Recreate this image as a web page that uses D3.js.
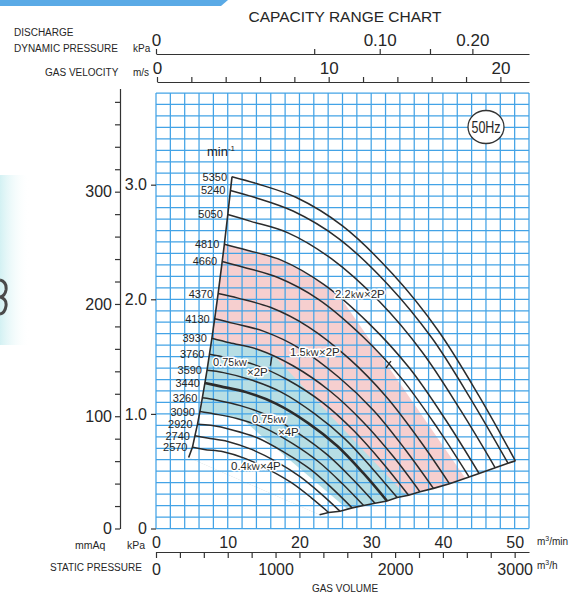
<!DOCTYPE html>
<html><head><meta charset="utf-8">
<script src="https://cdn.jsdelivr.net/npm/d3@7/dist/d3.min.js"></script>
<style>
body{margin:0;background:#fff}
svg text{font-family:"Liberation Sans",Arial,sans-serif;fill:#262626}
</style></head>
<body><svg id="c" width="577" height="603"></svg>
<script>
// ---------- data ----------
const rpmLabels = [5350,5240,5050,4810,4660,4370,4130,3930,3760,3590,3440,3260,3090,2920,2740,2570];
// gas volume (m3/min) of the points on each rpm curve
const curveQ = [
 [10.6,14.0,19.5,26.0,33.0,39.3,45.0,50.1],
 [10.38,13.71,19.10,25.47,32.32,38.49,44.07,49.07],
 [10.01,13.22,18.41,24.54,31.15,37.10,42.48,47.29],
 [9.53,12.59,17.53,23.38,29.67,35.33,40.46,45.04],
 [9.23,12.19,16.99,22.65,28.74,34.23,39.20,43.64],
 [8.66,11.44,15.93,21.24,26.96,32.10,36.76,40.92],
 [8.18,10.81,15.05,20.07,25.48,30.34,34.74,38.68],
 [7.79,10.28,14.32,19.10,24.24,28.87,33.06,36.80],
 [7.45,9.84,13.71,18.27,23.19,27.62,31.63,35.21],
 [7.11,9.39,13.09,17.45,22.14,26.37,30.20,33.62],
 [6.82,9.00,12.54,16.72,21.22,25.27,28.94,32.21],
 [6.46,8.53,11.88,15.84,20.11,23.95,27.42,30.53],
 [6.12,8.09,11.26,15.02,19.06,22.70,25.99,28.94],
 [5.79,7.64,10.64,14.19,18.01,21.45,24.56,27.34],
 [5.43,7.17,9.99,13.32,16.90,20.13,23.05,25.66],
 [5.09,6.73,9.37,12.49,15.85,18.88,21.62,24.07]];
// static pressure (kPa) of the same points
const curveP = [
 [3.07,3.01,2.89,2.64,2.22,1.73,1.16,0.59],
 [2.95,2.89,2.77,2.53,2.13,1.66,1.11,0.57],
 [2.74,2.68,2.58,2.35,1.98,1.54,1.03,0.53],
 [2.48,2.43,2.34,2.13,1.79,1.40,0.94,0.48],
 [2.33,2.28,2.19,2.00,1.68,1.31,0.88,0.45],
 [2.05,2.01,1.93,1.76,1.48,1.15,0.77,0.39],
 [1.83,1.79,1.72,1.57,1.32,1.03,0.69,0.35],
 [1.66,1.62,1.56,1.42,1.20,0.93,0.63,0.32],
 [1.52,1.49,1.43,1.30,1.10,0.85,0.57,0.29],
 [1.38,1.36,1.30,1.19,1.00,0.78,0.52,0.27],
 [1.27,1.24,1.19,1.09,0.92,0.72,0.48,0.24],
 [1.14,1.12,1.07,0.98,0.82,0.64,0.43,0.22],
 [1.02,1.00,0.96,0.88,0.74,0.58,0.39,0.20],
 [0.91,0.90,0.86,0.79,0.66,0.52,0.35,0.18],
 [0.81,0.79,0.76,0.69,0.58,0.45,0.30,0.15],
 [0.71,0.69,0.67,0.61,0.51,0.40,0.27,0.14]];
const thickCurve = 3440;
// ends of the left and lower boundary lines beyond the last curve
const leftEdgeEnd = [4.55,0.62];
const bottomEdgeEnd = [22.8,0.12];
// motor ranges: top curve (rpm) and power-limit line [Q,P] pairs
const rangeNames = ["1.5kW×2P","0.75kW×2P","0.4kW×4P"];
const rangeTopRpm = [4810,3930,3090];
const rangeLimitQ = [[24.8,43.0],[16.1,34.4],[13.0,26.3]];
const rangeLimitP = [[2.10,0.45],[1.53,0.32],[0.90,0.19]];
const rangeColors = ["#f6cfcf","#b7dee4","#ffffff"];
// short marks where the range edges leave the curves
const markQ = [[32.75,32.05],[16.15,15.95]];
const markP = [[1.46,1.40],[1.50,1.42]];
const regionLabels = ["2.2kW×2P","1.5kW×2P","0.75kW×2P","0.75kW×4P","0.4kW×4P"];
// axis tick labels
const kPaTicks = [0,1.0,2.0,3.0];
const mmAqTicks = [0,100,200,300];
const flowMinTicks = [0,10,20,30,40,50];
const flowHourTicks = [0,1000,2000,3000];
const velocityTicks = [0,10,20];
const dynPressTicks = [0,0.10,0.20];

// ---------- scales ----------
const svg = d3.select("#c");
const x = d3.scaleLinear().domain([0,52]).range([156,529]);
const y = d3.scaleLinear().domain([0,3.8]).range([528.5,93]);
const yMm = d3.scaleLinear().domain([0,392]).range([528.5,88.4]);   // 1 mmAq = 9.80665 Pa
const xHour = d3.scaleLinear().domain([0,52*60]).range([156,529]);
const xVel = d3.scaleLinear().domain([0,52/2.4]).range([157,529]);
const xDyn = d3.scaleSqrt().domain([0,0.278]).range([156,529]);

// ---------- page decorations ----------
const defs = svg.append("defs");
const lg = defs.append("linearGradient").attr("id","sideg").attr("x1",0).attr("x2",1);
lg.append("stop").attr("offset",0).attr("stop-color","#d3f1f3");
lg.append("stop").attr("offset",1).attr("stop-color","#ffffff").attr("stop-opacity",0);
svg.append("rect").attr("x",0).attr("y",175).attr("width",30).attr("height",170).attr("fill","url(#sideg)");
svg.append("path").attr("d","M0,0L228,0L221,6L0,6Z").attr("fill","#5aaae6");
svg.append("path").attr("d","M0,280Q7,282 6,290Q5,296 0,297M0,297Q7,299 6,306Q5,313 0,314")
   .attr("fill","none").attr("stroke","#4a4a4a").attr("stroke-width",3);

const line = d3.line().x(d=>x(d[0])).y(d=>y(d[1])).curve(d3.curveCatmullRom.alpha(0.5));
const lin = d3.line().x(d=>x(d[0])).y(d=>y(d[1]));
const curves = rpmLabels.map((r,i)=>curveQ[i].map((q,j)=>[q,curveP[i][j]]));
const leftEdge = curves.map(c=>c[0]).concat([leftEdgeEnd]);
const bottomEdge = curves.map(c=>c[c.length-1]).concat([bottomEdgeEnd]);
const xy = d=>x(d[0])+","+y(d[1]);

// ---------- range fills ----------
rangeTopRpm.forEach((rpm,k)=>{
  const i = rpmLabels.indexOf(rpm);
  const a=[x(rangeLimitQ[k][0]),y(rangeLimitP[k][0])], b=[x(rangeLimitQ[k][1]),y(rangeLimitP[k][1])];
  const dx=b[0]-a[0], dy=b[1]-a[1], L=Math.hypot(dx,dy);
  const p1=[a[0]-dx/L*1500,a[1]-dy/L*1500], p2=[b[0]+dx/L*1500,b[1]+dy/L*1500];
  defs.append("clipPath").attr("id","clip"+k).append("path")
     .attr("d","M"+p1+"L"+p2+"L-3000,3000Z");
  const back = bottomEdge.slice(i+1).concat(leftEdge.slice(i+1).reverse());
  const d = line(curves[i])+"L"+back.map(xy).join("L")+"Z";
  svg.append("path").attr("d",d).attr("fill",rangeColors[k]).attr("clip-path","url(#clip"+k+")");
});

// ---------- grid ----------
const grid = svg.append("g").attr("stroke","#43a3e6").attr("stroke-width",1.25);
d3.range(0,52.001,2).forEach(q=>grid.append("line").attr("x1",x(q)).attr("x2",x(q)).attr("y1",y(0)).attr("y2",y(3.8)));
d3.range(0,39).forEach(i=>grid.append("line").attr("x1",x(0)).attr("x2",x(52)).attr("y1",y(i/10)).attr("y2",y(i/10)));

// ---------- curves ----------
const cg = svg.append("g").attr("fill","none").attr("stroke","#2b2b2b");
curves.forEach((c,i)=>cg.append("path").attr("d",line(c)).attr("stroke-width",rpmLabels[i]===thickCurve?2.6:1.5));
cg.append("path").attr("d",lin(leftEdge)).attr("stroke-width",1.6);
cg.append("path").attr("d",lin(bottomEdge)).attr("stroke-width",1.6);
markQ.forEach((m,k)=>cg.append("path").attr("d",lin([[m[0],markP[k][0]],[m[1],markP[k][1]]])).attr("stroke-width",1.4));

// rpm labels
const rl = svg.append("g").attr("font-size",11).attr("text-anchor","end");
curves.forEach((c,i)=>rl.append("text").attr("x",x(c[0][0])-5).attr("y",y(c[0][1])+4).text(rpmLabels[i]));
svg.append("text").attr("x",207).attr("y",156).attr("font-size",13).text("min").append("tspan").attr("dy",-5).attr("font-size",8).text("-1");

// region labels
function halo(t){return t.style("paint-order","stroke").style("stroke","#fff").style("stroke-width",3).style("stroke-linejoin","round");}
function regionLabel(str,xx,yy,fs){
  const m = str.match(/^([\d.]+)kW(.*)$/);
  const t = halo(svg.append("text").attr("x",xx).attr("y",yy).attr("font-size",fs||11.5));
  t.append("tspan").text(m[1]);
  t.append("tspan").attr("font-size",(fs||11.5)*0.78).text("kW");
  if(m[2].length) t.append("tspan").text(m[2]);
  return t;
}
regionLabel(regionLabels[0],335,298);
regionLabel(regionLabels[1],290,356);
regionLabel(regionLabels[2].replace(/×.*$/,""),213,366,11);
halo(svg.append("text").attr("x",247).attr("y",376).attr("font-size",11.5)).text(regionLabels[2].replace(/^.*kW/,""));
regionLabel(regionLabels[3].replace(/×.*$/,""),252,423,11);
halo(svg.append("text").attr("x",278).attr("y",436).attr("font-size",11.5)).text(regionLabels[3].replace(/^.*kW/,""));
regionLabel(regionLabels[4],231,470);

// 50Hz badge
svg.append("ellipse").attr("cx",486).attr("cy",127).attr("rx",18).attr("ry",16.5).attr("fill","#fff").attr("stroke","#333").attr("stroke-width",1.3);
svg.append("text").attr("transform","translate(486,133) scale(0.78,1)").attr("text-anchor","middle").attr("font-size",16).text("50Hz");

// ---------- axes ----------
function styleAxis(g,fs){g.selectAll("path,line").attr("stroke","#333").attr("stroke-width",1.2);
  g.selectAll("text").attr("font-size",fs).style("fill","#262626").style("font-family",'"Liberation Sans",Arial,sans-serif');}
// left mmAq
const gm = svg.append("g").attr("transform","translate(120,0)")
  .call(d3.axisLeft(yMm).tickValues(d3.range(0,381,20)).tickSize(5).tickSizeOuter(0)
  .tickFormat(d=>mmAqTicks.includes(d)?d:""));
styleAxis(gm,16);
// kPa
const gk = svg.append("g").attr("transform","translate(156,0)")
  .call(d3.axisLeft(y).tickValues(kPaTicks).tickSize(5).tickPadding(4).tickFormat(d=>d===0?"0":d.toFixed(1)));
gk.select(".domain").remove(); styleAxis(gk,16);
// bottom flow axes
const gb = svg.append("g").attr("transform","translate(0,552)")
  .call(d3.axisBottom(xHour).tickValues(d3.range(0,3001,200)).tickSize(6).tickSizeOuter(0)
  .tickFormat(d=>flowHourTicks.includes(d)?d:""));
styleAxis(gb,16);
gb.selectAll("text").attr("dy","0.85em");
const gt = svg.append("g").attr("transform","translate(0,552)")
  .call(d3.axisTop(x).tickValues(flowMinTicks).tickSize(0).tickPadding(4));
gt.select(".domain").remove(); styleAxis(gt,16);
// top axes
const gd = svg.append("g").attr("transform","translate(0,54)")
  .call(d3.axisTop(xDyn).tickValues([0,0.05,0.10,0.15,0.20]).tickSize(5).tickSizeOuter(0).tickPadding(3)
  .tickFormat(d=>dynPressTicks.includes(d)?(d===0?"0":d.toFixed(2)):""));
styleAxis(gd,17);
const gv = svg.append("g").attr("transform","translate(0,82)")
  .call(d3.axisTop(xVel).tickValues(d3.range(0,21,2)).tickSize(5).tickSizeOuter(0).tickPadding(3)
  .tickFormat(d=>velocityTicks.includes(d)?d:""));
styleAxis(gv,17);

// ---------- axis titles ----------
function t(str,xx,yy,fs,anchor){return svg.append("text").attr("x",xx).attr("y",yy).attr("font-size",fs).attr("text-anchor",anchor||"start").text(str);}
t("CAPACITY RANGE CHART",345,22,15.5,"middle");
t("DISCHARGE",14,36,10);
t("DYNAMIC PRESSURE",14,52,10);
t("kPa",133,52,10);
t("GAS VELOCITY",45,76,10);
t("m/s",133,76,10);
t("mmAq",75,549,10.5);
t("kPa",127,549,10.5);
t("STATIC PRESSURE",50,571,10);
t("GAS VOLUME",345,592,10,"middle");
const tm = t("m",537,545,10); tm.append("tspan").attr("font-size",7).attr("dy",-4).text("3"); tm.append("tspan").attr("dy",4).text("/min");
const th = t("m",537,569,10); th.append("tspan").attr("font-size",7).attr("dy",-4).text("3"); th.append("tspan").attr("dy",4).text("/h");
</script></body></html>
